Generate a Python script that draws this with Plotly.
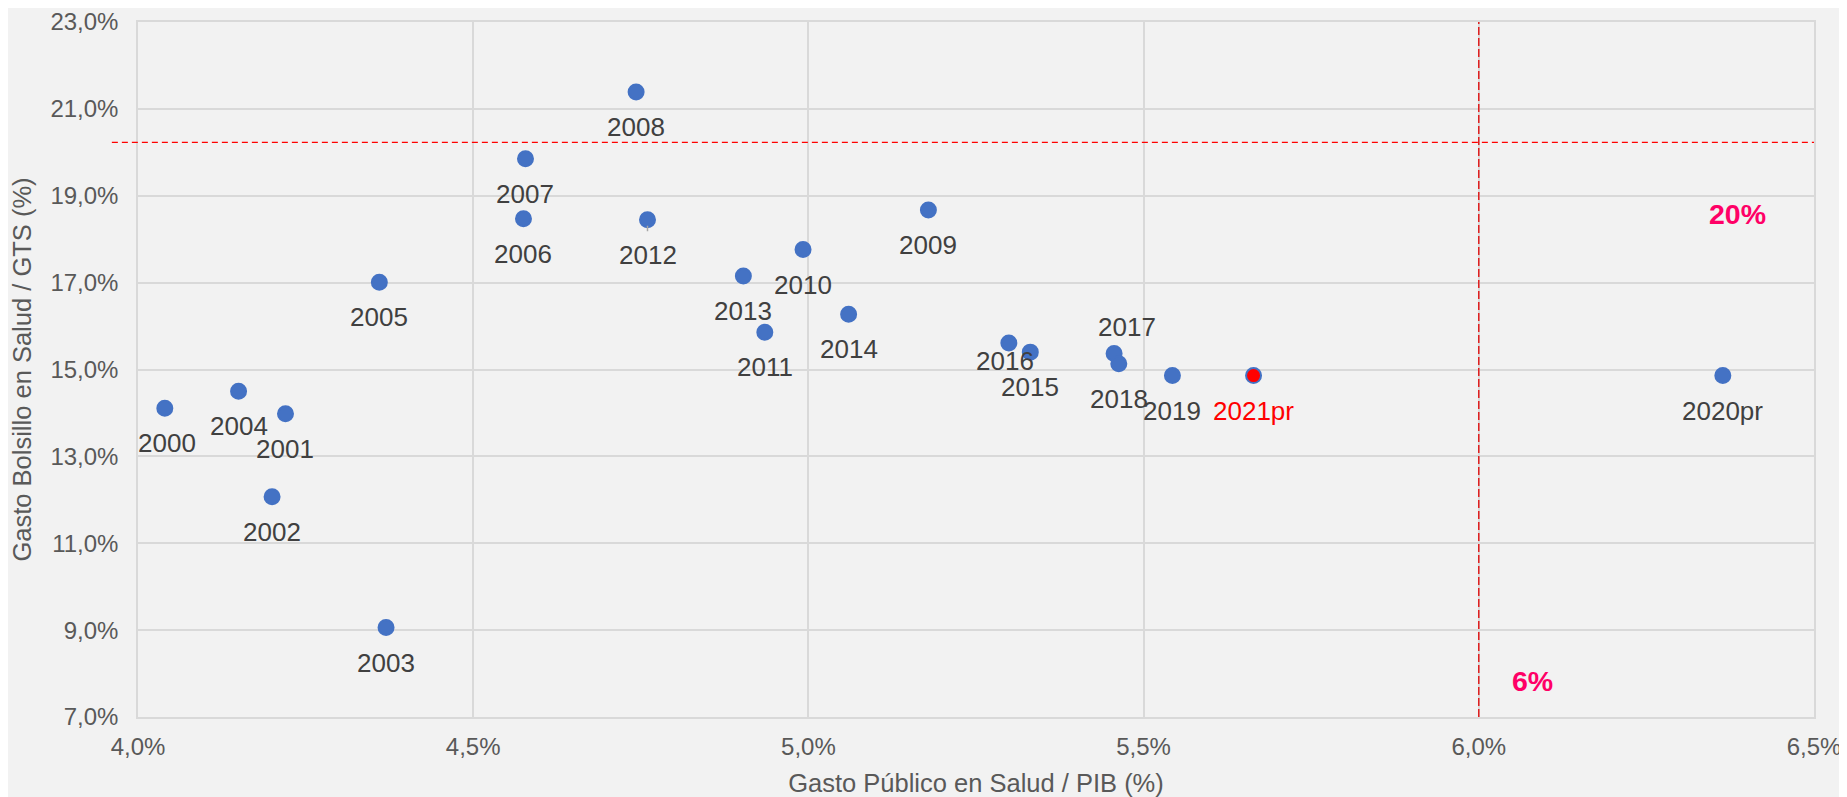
import plotly.graph_objects as go

# ---- data ----
years = ["2000", "2001", "2002", "2003", "2004", "2005", "2006", "2007", "2008",
         "2009", "2010", "2011", "2012", "2013", "2014", "2015", "2016", "2017",
         "2018", "2019", "2020pr", "2021pr"]
gasto_publico_pib = [4.04, 4.22, 4.20, 4.37, 4.15, 4.36, 4.575, 4.578, 4.743,
                     5.179, 4.992, 4.935, 4.760, 4.903, 5.060, 5.331, 5.299, 5.456,
                     5.463, 5.543, 6.364, 5.664]
gasto_bolsillo_gts = [14.11, 13.98, 12.07, 9.06, 14.50, 17.01, 18.47, 19.85, 21.39,
                      18.67, 17.76, 15.86, 18.45, 17.15, 16.27, 15.40, 15.61, 15.37,
                      15.13, 14.86, 14.86, 14.86]
ref_bolsillo = 20.23   # horizontal reference line
ref_publico = 6.0      # vertical reference line
ref_labels = ["20%", "6%"]
x_ticks = [4.0, 4.5, 5.0, 5.5, 6.0, 6.5]
y_ticks = [7, 9, 11, 13, 15, 17, 19, 21, 23]


def pct_label(v):
    return ("%.1f%%" % v).replace(".", ",")


# ---- styles / label placement ----
FONT = "Liberation Sans, Arial, sans-serif"
BLUE = "#4472C4"
label_offsets = {"2016": (-4, -18), "2017": (13, 26), "2000": (2, -35)}
default_offset = (0, -35)

marker_colors = ["#FF0000" if y == "2021pr" else BLUE for y in years]

fig = go.Figure()
fig.add_trace(go.Scatter(
    x=gasto_publico_pib, y=gasto_bolsillo_gts, mode="markers",
    marker=dict(size=15, color=marker_colors, line=dict(color=BLUE, width=2)),
    hovertext=years, showlegend=False,
))

annotations = []
for yr, xv, yv in zip(years, gasto_publico_pib, gasto_bolsillo_gts):
    dx, dy = label_offsets.get(yr, default_offset)
    annotations.append(dict(
        x=xv, y=yv, xref="x", yref="y", text=yr, showarrow=False,
        xshift=dx, yshift=dy,
        font=dict(family=FONT, size=26,
                  color="#FF0000" if yr == "2021pr" else "#404040"),
    ))
# small leader line for 2012
i12 = years.index("2012")
annotations.append(dict(
    x=gasto_publico_pib[i12], y=gasto_bolsillo_gts[i12], xref="x", yref="y",
    ax=gasto_publico_pib[i12], ay=gasto_bolsillo_gts[i12] - 0.3,
    axref="x", ayref="y", text="", showarrow=True, arrowhead=0,
    arrowwidth=1.5, arrowcolor="#A6A6A6", standoff=6,
))
annotations.append(dict(
    x=6.386, y=18.58, xref="x", yref="y", text="<b>%s</b>" % ref_labels[0],
    showarrow=False, font=dict(family=FONT, size=28.5, color="#FF0066"),
))
annotations.append(dict(
    x=6.08, y=7.84, xref="x", yref="y", text="<b>%s</b>" % ref_labels[1],
    showarrow=False, font=dict(family=FONT, size=28.5, color="#FF0066"),
))

shapes = [
    dict(type="line", xref="paper", yref="y", x0=-0.0156, x1=1,
         y0=ref_bolsillo, y1=ref_bolsillo,
         line=dict(color="#FF0000", width=1.3, dash="6px,4px")),
    dict(type="line", xref="x", yref="paper", x0=ref_publico, x1=ref_publico,
         y0=0, y1=1,
         line=dict(color="#E00000", width=1.3, dash="8px,3px")),
]

axis_common = dict(
    showgrid=True, gridcolor="#D9D9D9", gridwidth=1.5,
    showline=True, linecolor="#D9D9D9", linewidth=1.5, mirror=True,
    zeroline=False, ticks="outside", tickcolor="rgba(0,0,0,0)",
    tickfont=dict(family=FONT, size=24, color="#595959"),
    tickmode="array", automargin=False,
)

fig.update_layout(
    width=1839, height=789,
    margin=dict(l=130, r=33, t=14, b=80),
    paper_bgcolor="#F2F2F2", plot_bgcolor="#F2F2F2",
    font=dict(family=FONT, color="#595959"),
    xaxis=dict(range=[4.0, 6.5], tickvals=x_ticks,
               ticktext=[pct_label(v) for v in x_ticks], ticklen=7,
               title=dict(text="Gasto Público en Salud / PIB (%)",
                          font=dict(family=FONT, size=25.5, color="#595959"),
                          standoff=17),
               **axis_common),
    yaxis=dict(range=[7, 23], tickvals=y_ticks,
               ticktext=[pct_label(v) for v in y_ticks], ticklen=13,
               title=dict(text="Gasto Bolsillo en Salud / GTS (%)",
                          font=dict(family=FONT, size=25.5, color="#595959"),
                          standoff=11),
               **axis_common),
    annotations=annotations,
    shapes=shapes,
)

fig.write_html("out.html")
